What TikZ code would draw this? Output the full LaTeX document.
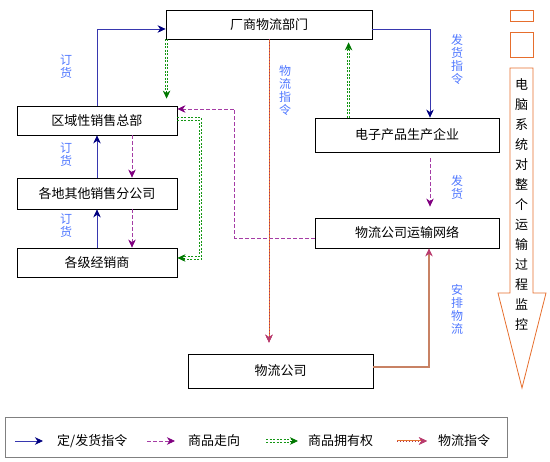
\documentclass[tikz,border=0pt]{standalone}
\usepackage{fontspec}
\setmainfont{Noto Sans CJK SC}
\usetikzlibrary{arrows.meta,calc}
\definecolor{bline}{RGB}{55,55,175}
\definecolor{bhead}{RGB}{0,0,128}
\definecolor{pline}{RGB}{165,60,165}
\definecolor{phead}{RGB}{128,0,128}
\definecolor{gline}{RGB}{20,150,20}
\definecolor{ghead}{RGB}{0,120,0}
\definecolor{oline}{RGB}{230,115,45}
\definecolor{odot}{RGB}{170,50,90}
\definecolor{brline}{RGB}{200,130,100}
\definecolor{mhead}{RGB}{185,60,110}
\definecolor{lblue}{RGB}{80,120,255}
\definecolor{orng}{RGB}{230,110,45}
\tikzset{
  box/.style={draw=black, line width=0.8pt, fill=white, inner sep=0pt, font=\fontsize{13}{15}\selectfont},
  lbl/.style={text=lblue, align=center, inner sep=0pt, font=\fontsize{12}{13}\selectfont},
  legtext/.style={anchor=west, inner sep=0pt, font=\fontsize{13}{15}\selectfont},
  tipb/.style={-{Stealth[length=8pt,width=7.5pt,inset=2.5pt,color=#1]}},
  order/.style={draw=bline, line width=0.8pt, tipb=bhead},
  goods/.style={draw=pline, line width=0.8pt, dash pattern=on 4pt off 2pt, tipb=phead},
  own/.style={draw=gline, line width=0.9pt, dash pattern=on 2pt off 1.5pt},
  ownhead/.style={draw=ghead, line width=0.8pt, tipb=ghead},
  logi/.style={draw=oline, line width=1pt, tipb=mhead, postaction={draw=odot, dash pattern=on 0.5pt off 2.5pt, line width=0.4pt}},
  arrange/.style={draw=brline, line width=1.1pt, tipb=mhead},
}
\begin{document}
\begin{tikzpicture}[x=1pt,y=-1pt]
\useasboundingbox (0,0) rectangle (550,462);

% boxes
\node[box, minimum width=206pt, minimum height=29pt] (cs) at (269,24.5) {厂商物流部门};
\node[box, minimum width=160pt, minimum height=29pt] (qy) at (97,120.5) {区域性销售总部};
\node[box, minimum width=160pt, minimum height=31pt] (gd) at (97,193.5) {各地其他销售分公司};
\node[box, minimum width=160pt, minimum height=29pt] (ge) at (97,262.5) {各级经销商};
\node[box, minimum width=184pt, minimum height=34pt] (dz) at (407,135) {电子产品生产企业};
\node[box, minimum width=184pt, minimum height=30pt] (ys) at (407,233) {物流公司运输网络};
\node[box, minimum width=185pt, minimum height=34pt] (wl) at (280.5,371) {物流公司};

% order lines
\draw[order] (qy.north) |- ($(cs.west)+(0,4.5)$);
\draw[order] (gd.north) -- (qy.south);
\draw[order] (ge.north) -- (gd.south);
\draw[order] ($(cs.east)+(0,4.5)$) -| ($(dz.north)+(23,0)$);

% goods lines
\draw[goods] ($(qy.south)+(35,0)$) -- ($(gd.north)+(35,0)$);
\draw[goods] ($(gd.south)+(35,0)$) -- ($(ge.north)+(35,0)$);
\draw[goods, shorten <=6pt, shorten >=11pt] ($(dz.south)+(23,0)$) -- ($(ys.north)+(23,0)$);
\draw[goods] ($(ys.west)+(0,5)$) -- ++(-80,0) |- ($(qy.east)+(0,-11.5)$);

% ownership lines (two parallel dashed lines each)
\coordinate (g1s) at ($(cs.south west)+(1,0)$);
\coordinate (g1e) at ($(g1s |- qy.north)+(0,-7)$);
\draw[own] ($(g1s)+(-1.2,0)$) -- ($(g1e)+(-1.2,-7)$);
\draw[own] ($(g1s)+(1.2,0)$) -- ($(g1e)+(1.2,-7)$);
\draw[ownhead] ($(g1e)+(0,-8)$) -- (g1e);

\coordinate (g2s) at ($(dz.north west)+(34,0)$);
\coordinate (g2e) at ($(g2s |- cs.south)+(0,3)$);
\draw[own] ($(g2s)+(-1.2,0)$) -- ($(g2e)+(-1.2,7)$);
\draw[own] ($(g2s)+(1.2,0)$) -- ($(g2e)+(1.2,7)$);
\draw[ownhead] ($(g2e)+(0,8)$) -- (g2e);

\coordinate (g3s) at ($(qy.east)+(0,-1.5)$);
\coordinate (g3m) at ($(g3s)+(23,0)$);
\coordinate (g3e) at ($(ge.east)+(0,-4.5)$);
\coordinate (g3c) at (g3m |- g3e);
\draw[own] ($(g3s)+(0,-1.2)$) -- ($(g3m)+(1.2,-1.2)$) -- ($(g3c)+(1.2,1.2)$) -- ($(g3e)+(7,1.2)$);
\draw[own] ($(g3s)+(0,1.2)$) -- ($(g3m)+(-1.2,1.2)$) -- ($(g3c)+(-1.2,-1.2)$) -- ($(g3e)+(7,-1.2)$);
\draw[ownhead] ($(g3e)+(8,0)$) -- (g3e);

% logistics lines
\draw[logi, shorten >=11pt] (cs.south) -- (cs.south |- wl.north);
\draw[arrange] ($(wl.east)+(0,-4)$) -| ($(ys.south)+(22,0)$);

% labels
\node[lbl] (l1) at (66,66.5) {订\\货};
\node[lbl] (l2) at (66,155) {订\\货};
\node[lbl] (l3) at (66,225.5) {订\\货};
\node[lbl] (l4) at (285,90) {物\\流\\指\\令};
\node[lbl] (l5) at (457,59) {发\\货\\指\\令};
\node[lbl] (l6) at (457,187) {发\\货};
\node[lbl] (l7) at (457,309) {安\\排\\物\\流};

% right side
\draw[orng, line width=0.8pt] (510,10) rectangle (533,21);
\draw[orng, line width=0.8pt] (510,32) rectangle (533,57);
\draw[orng, line width=0.8pt] (510,68) -- (533,68) -- (533,293) -- (546,293) -- (522,388) -- (498,293) -- (510,293) -- cycle;
\node[align=center, inner sep=0pt, font=\fontsize{13}{20}\selectfont] (mon) at (521.5,205)
  {电\\脑\\系\\统\\对\\整\\个\\运\\输\\过\\程\\监\\控};

% legend
\draw[gray, line width=0.8pt] (5,417) rectangle (507,457);
\coordinate (k1a) at (15,441); \coordinate (k1b) at (43,441);
\coordinate (k2a) at (147,441); \coordinate (k2b) at (175,441);
\coordinate (k3a) at (266,441); \coordinate (k3b) at (298,441);
\coordinate (k4a) at (397,441); \coordinate (k4b) at (427,441);
\draw[order] (k1a) -- (k1b);
\draw[goods] (k2a) -- (k2b);
\draw[own] ($(k3a)+(0,-1.2)$) -- ($(k3b)+(-7,-1.2)$);
\draw[own] ($(k3a)+(0,1.2)$) -- ($(k3b)+(-7,1.2)$);
\draw[ownhead] ($(k3b)+(-8,0)$) -- (k3b);
\draw[logi] (k4a) -- (k4b);
\node[legtext] (t1) at (57,441) {定/发货指令};
\node[legtext] (t2) at (188,441) {商品走向};
\node[legtext] (t3) at (308,441) {商品拥有权};
\node[legtext] (t4) at (438,441) {物流指令};
\end{tikzpicture}
\end{document}
